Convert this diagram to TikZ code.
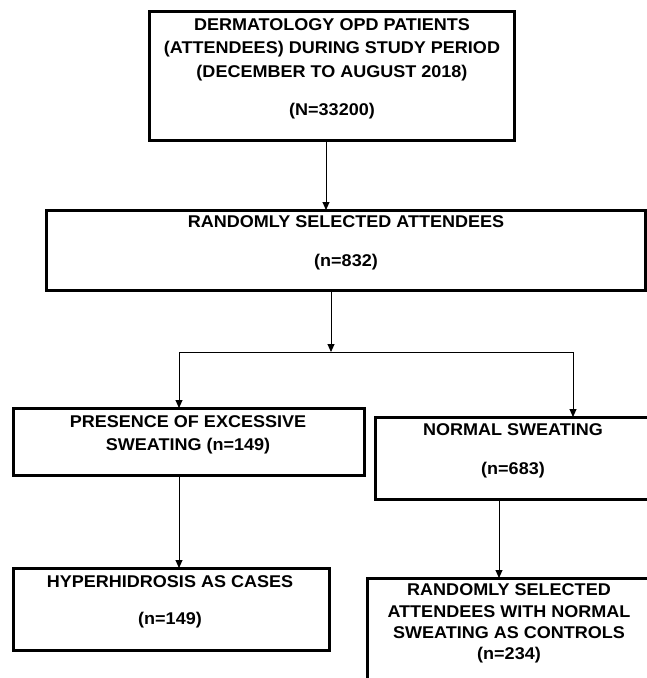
\documentclass[tikz,border=0pt]{standalone}
\usepackage{fontspec}
\setmainfont{Liberation Sans}[FakeStretch=1.06]
\usetikzlibrary{arrows.meta}
\begin{document}
\begin{tikzpicture}[x=1pt,y=-1pt,
  box/.style={draw, line width=3pt, inner sep=0pt, outer sep=0pt},
  txt/.style={anchor=base, inner sep=0pt, font=\fontsize{17}{20}\selectfont\bfseries},
  arr/.style={line width=0.9pt, -{Triangle[length=8pt,width=7pt]}},
  ln/.style={line width=0.9pt}]
\useasboundingbox (0,0) rectangle (647,678);
\clip (0,0) rectangle (647,678);
\fill[white] (0,0) rectangle (647,678);
% boxes
\node[box, minimum width=365pt, minimum height=129pt] (b1) at (331.5,75.5) {};
\node[box, minimum width=599pt, minimum height=80pt] (b2) at (345.5,250) {};
\node[box, minimum width=351pt, minimum height=67pt] (b3) at (188.5,441.5) {};
\node[box, minimum width=290pt, minimum height=82pt] (b4) at (520,458) {};
\node[box, minimum width=316pt, minimum height=82pt] (b5) at (171,609) {};
\node[box, minimum width=298pt, minimum height=122pt] (b6) at (516,639) {};
% texts
\node[txt] (t1a) at (332,30) {DERMATOLOGY OPD PATIENTS};
\node[txt] (t1b) at (332,53) {(ATTENDEES) DURING STUDY PERIOD};
\node[txt] (t1c) at (332,77) {(DECEMBER TO AUGUST 2018)};
\node[txt] (t1d) at (332,115) {(N=33200)};
\node[txt] (t2a) at (346,227) {RANDOMLY SELECTED ATTENDEES};
\node[txt] (t2b) at (346,266) {(n=832)};
\node[txt] (t3a) at (188,427) {PRESENCE OF EXCESSIVE};
\node[txt] (t3b) at (188,450) {SWEATING (n=149)};
\node[txt] (t4a) at (513,435) {NORMAL SWEATING};
\node[txt] (t4b) at (513,474) {(n=683)};
\node[txt] (t5a) at (170,587) {HYPERHIDROSIS AS CASES};
\node[txt] (t5b) at (170,624) {(n=149)};
\node[txt] (t6a) at (509,595) {RANDOMLY SELECTED};
\node[txt] (t6b) at (509,617) {ATTENDEES WITH NORMAL};
\node[txt] (t6c) at (509,638) {SWEATING AS CONTROLS};
\node[txt] (t6d) at (509,659) {(n=234)};
% connector positions
\coordinate (c1) at (326,0);
\coordinate (c4) at (499,0);
\coordinate (jC) at (331,352);
\coordinate (jL) at (179,352);
\coordinate (jR) at (573,352);
% connectors
\draw[arr] (b1.south -| c1) -- (b2.north -| c1);
\draw[arr] (b2.south -| jC) -- (jC);
\draw[ln] (jL) -- (jR);
\draw[arr] (jL) -- (b3.north -| jL);
\draw[arr] (jR) -- (b4.north -| jR);
\draw[arr] (b3.south -| jL) -- (b5.north -| jL);
\draw[arr] (b4.south -| c4) -- (b6.north -| c4);
\end{tikzpicture}
\end{document}
